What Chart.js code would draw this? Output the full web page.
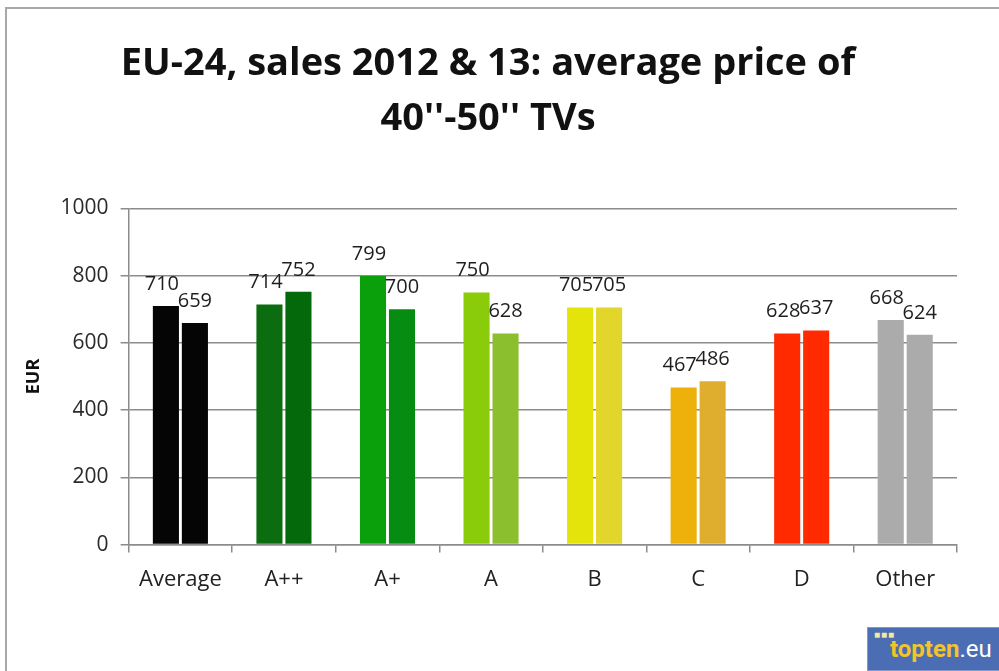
<!DOCTYPE html>
<html>
<head>
<meta charset="utf-8">
<script src="https://cdn.jsdelivr.net/npm/chart.js@4.4.0/dist/chart.umd.min.js"></script>
<style>
  body { margin: 0; background: #fff; }
  #wrap { position: relative; width: 999px; height: 671px; overflow: hidden; }
  #myChart { position: absolute; left: 0; top: 0; }
  #frame { position: absolute; left: 5px; top: 7px; width: 1100px; height: 700px;
           border-top: 2px solid #a8a8a8; border-left: 2px solid #a8a8a8; }
  #logo { position: absolute; left: 867px; top: 627px; width: 140px; height: 44px;
          background: #4b6db4; border: 1px solid #7f99cf; box-sizing: border-box;
          font-family: "Roboto", sans-serif; font-weight: bold; font-size: 24px; line-height: 40px; }
  #logo .dots { position: absolute; left: 6px; top: 2px; color: #f5e9a0; font-size: 10px; line-height: 10px; letter-spacing: 1px; }
  #logo .t { position: absolute; left: 22px; top: 1px; color: #f2c42a; }
  #logo .t span { color: #fff; font-weight: normal; }
</style>
</head>
<body>
<div id="wrap">
  <canvas id="myChart" width="999" height="671"></canvas>
  <div id="frame"></div>
  <div id="logo"><div class="dots">■■■</div><div class="t">topten<span>.eu</span></div></div>
</div>
<script>
// dados
const categorias = ['Average', 'A++', 'A+', 'A', 'B', 'C', 'D', 'Other'];
const vendas2012 = [710, 714, 799, 750, 705, 467, 628, 668];
const vendas2013 = [659, 752, 700, 628, 705, 486, 637, 624];
const yTicks = [0, 200, 400, 600, 800, 1000];

// cores de cada classe energetica
const cores2012 = ['#050505', '#0b6d10', '#0aa00c', '#8acb0a', '#e4e40a', '#eeb00a', '#ff2a00', '#ababab'];
const cores2013 = ['#050505', '#03690a', '#078c12', '#8bbf2d', '#e2d62c', '#e0ae2e', '#ff2a00', '#ababab'];

const gridCor = '#8c8c8c';

// rotulos em cima das barras
const rotulos = {
  id: 'rotulos',
  afterDatasetsDraw(chart) {
    const c = chart.ctx;
    c.save();
    c.font = '20px "Open Sans"';
    c.fillStyle = '#1e1e1e';
    c.textAlign = 'center';
    c.textBaseline = 'bottom';
    chart.data.datasets.forEach((ds, i) => {
      chart.getDatasetMeta(i).data.forEach((bar, j) => {
        const dx = i === 0 ? -4 : 0;
        c.fillText(ds.data[j], bar.x + dx, bar.y - 12);
      });
    });
    c.restore();
  }
};

function graficos() {
  const ctx = document.getElementById('myChart');
  new Chart(ctx, {
    type: 'bar',
    data: {
      labels: categorias,
      datasets: [{
        label: '2012',
        data: vendas2012,
        backgroundColor: cores2012,
        categoryPercentage: 0.56,
        barPercentage: 0.9
      }, {
        label: '2013',
        data: vendas2013,
        backgroundColor: cores2013,
        categoryPercentage: 0.56,
        barPercentage: 0.9
      }]
    },
    options: {
      responsive: false,
      animation: false,
      layout: { padding: { left: 19, right: 42, bottom: 64 } },
      plugins: {
        legend: { display: false },
        tooltip: { enabled: false },
        title: {
          display: true,
          text: ['EU-24, sales 2012 & 13: average price of', '40\'\'-50\'\' TVs'],
          font: { family: 'Open Sans', size: 38, weight: 'bold', lineHeight: 1.44 },
          color: '#111',
          padding: { top: 37, bottom: 62 }
        }
      },
      scales: {
        y: {
          min: 0,
          max: 1000,
          afterBuildTicks: (s) => { s.ticks = yTicks.map(v => ({ value: v })); },
          ticks: { color: '#2a2a2a', font: { family: 'Open Sans', size: 21 }, padding: 12, callback: (v) => String(v) },
          grid: { color: gridCor, lineWidth: 1.5, tickLength: 8 },
          border: { color: gridCor, width: 1.5 },
          title: { display: true, text: 'EUR', color: '#111', font: { family: 'Open Sans', size: 18, weight: 'bold' }, padding: 4 }
        },
        x: {
          grid: { drawOnChartArea: false, offset: true, color: gridCor, lineWidth: 1.5, tickLength: 8 },
          border: { color: gridCor, width: 1.5 },
          ticks: { color: '#222', font: { family: 'Open Sans', size: 22 }, padding: 14 }
        }
      }
    },
    plugins: [rotulos]
  });
}

graficos();
</script>
</body>
</html>
